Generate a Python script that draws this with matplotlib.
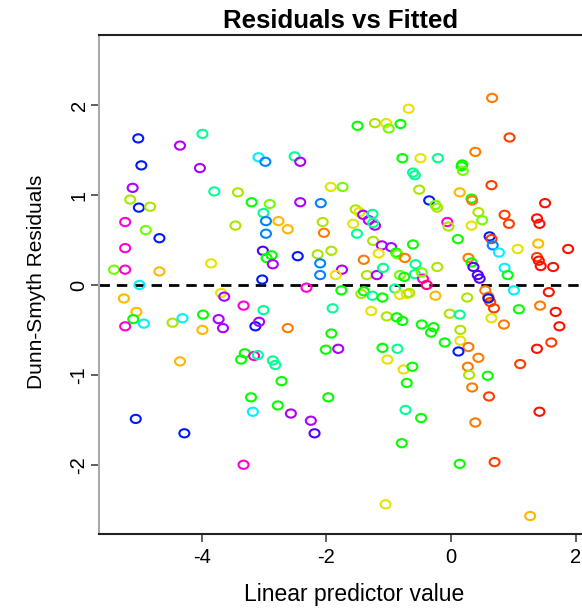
import numpy as np
import matplotlib
matplotlib.use("Agg")
import matplotlib.pyplot as plt
from matplotlib.path import Path
from matplotlib.transforms import Affine2D
from matplotlib.colors import hsv_to_rgb

# ---- data ----
fitted = [
    -5.02, -4.35, -3.99, -3.09, -2.98, -4.97, -4.03, -0.68, -1.50, -1.22,
    -1.04, -1.00, -0.81, -2.51, -2.42, -0.78, -0.49, 0.66, 0.94, 0.39,
    -0.21, 0.18, -5.11, -5.15, -5.01, -4.83, -3.80, -3.42, -3.20, -5.23,
    -4.90, -4.68, -3.46, -3.01, -3.02, -2.96, -5.23, -5.41, -5.23, -4.68,
    -3.85, -3.03, -5.00, -0.61, -0.58, -0.51, -1.93, -1.74, -2.91, -2.42,
    -2.09, -2.97, -2.77, -2.62, -2.97, -2.06, -2.04, -1.53, -1.47, -1.41,
    -1.32, -1.26, -1.22, -1.25, -1.57, -1.51, -1.25, -1.11, -0.96, -1.16,
    -0.88, -0.86, -0.74, -0.61, -0.57, -2.88, -2.86, -2.46, -2.14, -1.92,
    -2.10, -2.10, -1.75, -1.85, -1.40, -1.35, -1.19, -1.09, -0.82, -0.75,
    -0.58, -0.45, -0.39, -0.47, -2.32, -1.76, -1.44, -1.40, -1.26, -1.10,
    -0.90, -0.82, -0.71, -0.67, 0.17, 0.19, 0.65, 0.14, -0.35, -0.25,
    -0.22, 0.33, 0.34, 1.51, 0.44, 0.50, 0.86, 0.93, 1.38, 1.42,
    -0.06, -0.04, 0.33, 0.11, 0.62, 0.65, 0.67, 0.77, 1.07, 1.40,
    1.88, 1.38, 1.41, 1.44, 1.64, 0.28, 0.33, 0.36, 0.43, 0.46,
    0.86, 0.91, -0.22, 0.55, 1.01, 1.57, -3.69, -3.64, -5.25, -5.05,
    -5.10, -5.23, -4.93, -4.47, -4.31, -3.98, -3.99, -3.73, -3.66, -3.33,
    -3.01, -3.14, -3.08, -4.35, -3.31, -3.37, -3.16, -3.10, -3.21, -3.18,
    -5.06, -4.28, -3.33, -2.62, -1.90, -1.92, -2.01, -1.81, -2.86, -2.82,
    -2.72, -1.97, -2.78, -2.57, -2.25, -1.28, -1.03, -0.87, -0.78, -0.47,
    -1.10, -0.86, -1.02, -0.76, -0.62, -0.71, -0.73, -0.48, -2.19, -0.79,
    -1.05, -0.25, 0.26, 0.60, 0.63, 0.69, 0.60, 1.09, 1.43, 1.68,
    1.74, -0.02, 0.14, 0.65, 0.85, -0.28, -0.32, 0.15, -0.10, 0.15,
    0.28, 0.12, 1.61, 1.38, 0.44, 1.11, 0.27, 0.29, 0.59, 0.34,
    0.61, 1.42, 0.39, 0.14, 0.70, 1.27,
]
residuals = [
    1.63, 1.55, 1.68, 1.42, 1.37, 1.33, 1.30, 1.96, 1.77, 1.80,
    1.80, 1.74, 1.79, 1.43, 1.37, 1.41, 1.41, 2.08, 1.64, 1.48,
    1.41, 1.34, 1.08, 0.95, 0.86, 0.87, 1.04, 1.03, 0.92, 0.70,
    0.61, 0.52, 0.66, 0.80, 0.38, 0.30, 0.41, 0.17, 0.17, 0.15,
    0.24, 0.06, 0.00, 1.25, 1.22, 1.06, 1.09, 1.09, 0.90, 0.92,
    0.91, 0.71, 0.71, 0.62, 0.57, 0.70, 0.58, 0.84, 0.81, 0.78,
    0.72, 0.79, 0.66, 0.69, 0.68, 0.57, 0.49, 0.44, 0.42, 0.35,
    0.36, 0.34, 0.30, 0.45, 0.23, 0.33, 0.23, 0.32, 0.34, 0.38,
    0.24, 0.11, 0.17, 0.11, 0.28, 0.11, 0.11, 0.19, 0.11, 0.09,
    0.12, 0.07, 0.00, 0.14, -0.03, -0.06, -0.10, -0.07, -0.12, -0.14,
    -0.04, -0.11, -0.10, -0.09, 1.32, 1.27, 1.11, 1.03, 0.94, 0.89,
    0.86, 0.96, 0.94, 0.91, 0.81, 0.72, 0.78, 0.68, 0.74, 0.68,
    0.70, 0.65, 0.66, 0.51, 0.54, 0.51, 0.44, 0.36, 0.40, 0.46,
    0.40, 0.31, 0.27, 0.21, 0.20, 0.30, 0.25, 0.20, 0.11, 0.07,
    0.19, 0.11, 0.20, -0.06, -0.06, -0.08, -0.09, -0.13, -0.15, -0.30,
    -0.38, -0.46, -0.43, -0.42, -0.37, -0.33, -0.50, -0.38, -0.48, -0.23,
    -0.28, -0.46, -0.41, -0.85, -0.76, -0.83, -0.79, -0.78, -1.25, -1.41,
    -1.49, -1.65, -2.00, -0.48, -0.26, -0.54, -0.72, -0.71, -0.84, -0.89,
    -1.07, -1.25, -1.34, -1.43, -1.51, -0.29, -0.35, -0.36, -0.40, -0.44,
    -0.70, -0.71, -0.83, -0.94, -0.91, -1.09, -1.39, -1.48, -1.65, -1.76,
    -2.44, -0.12, -0.14, -0.13, -0.19, -0.26, -0.15, -0.27, -0.23, -0.30,
    -0.46, -0.32, -0.33, -0.37, -0.44, -0.47, -0.53, -0.50, -0.64, -0.62,
    -0.69, -0.74, -0.64, -0.71, -0.81, -0.88, -0.91, -1.00, -1.01, -1.14,
    -1.24, -1.41, -1.53, -1.99, -1.97, -2.57,
]
group = [
    "B", "P", "M", "C", "AZ", "B", "P", "Y", "G", "YG",
    "Y", "L", "G", "M", "P", "G", "Y", "O", "RO", "O",
    "M", "G", "P", "YG", "B", "YG", "M", "YG", "G", "MG",
    "L", "B", "YG", "M", "V", "G", "MG", "L", "MG", "A",
    "Y", "B", "C", "M", "M", "YG", "Y", "L", "L", "P",
    "AZ", "AZ", "A", "A", "AZ", "YG", "O", "YG", "Y", "P",
    "P", "M", "P", "M", "Y", "M", "YG", "P", "P", "Y",
    "G", "L", "O", "G", "M", "G", "P", "B", "YG", "YG",
    "AZ", "AZ", "P", "Y", "O", "YG", "P", "M", "L", "G",
    "M", "MG", "PK", "L", "MG", "G", "YG", "G", "M", "G",
    "M", "Y", "Y", "YG", "G", "L", "RO", "A", "B", "L",
    "YG", "G", "O", "R", "YG", "L", "RO", "RO", "R", "R",
    "MG", "YG", "Y", "G", "B", "RO", "AZ", "C", "Y", "A",
    "R", "RO", "R", "R", "R", "O", "G", "V", "V", "V",
    "C", "G", "YG", "O", "C", "R", "Y", "P", "A", "A",
    "G", "MG", "C", "YG", "C", "G", "A", "P", "P", "MG",
    "M", "B", "P", "A", "G", "G", "MG", "M", "G", "C",
    "B", "B", "MG", "O", "M", "G", "G", "P", "M", "M",
    "G", "G", "G", "P", "P", "Y", "YG", "G", "G", "G",
    "G", "M", "Y", "Y", "G", "G", "M", "G", "V", "G",
    "Y", "A", "YG", "O", "RO", "RO", "B", "G", "O", "R",
    "R", "YG", "M", "Y", "O", "G", "G", "YG", "G", "Y",
    "O", "B", "RO", "R", "O", "RO", "O", "YG", "G", "O",
    "RO", "R", "O", "G", "RO", "A",
]

HUE = dict(R=0.01, RO=0.04, O=0.08, A=0.12, Y=0.165, YG=0.21, L=0.26,
           G=0.33, M=0.43, C=0.51, AZ=0.58, B=0.65, V=0.72, P=0.78,
           MG=0.86, PK=0.92)

def col(g):
    h = HUE[g]
    v = 0.9 if 0.13 < h < 0.23 else 1.0
    return hsv_to_rgb([h, 1.0, v])

colors = [col(g) for g in group]

plt.rcParams["font.family"] = ["Liberation Sans", "DejaVu Sans"]
plt.rcParams["lines.scale_dashes"] = False

W, H = 582, 612
fig = plt.figure(figsize=(W / 100, H / 100), dpi=100)
left, right, top, bottom = 99, 583, 35, 534
ax = fig.add_axes([left / W, (H - bottom) / H, (right - left) / W, (bottom - top) / H])

ellipse = Path.unit_circle().transformed(Affine2D().scale(1.22, 1.0))
ax.scatter(fitted, residuals, marker=ellipse, s=52, facecolors="none",
           edgecolors=colors, linewidths=1.5, zorder=3)

ax.axhline(0, color="black", lw=2, ls=(0, (7.5, 5)), zorder=2)

x0 = -5.65
ax.set_xlim(x0, x0 + (right - left) / 62.3)
ax.set_ylim(-2.77, 2.78)

ax.set_xticks([-4, -2, 0, 2])
ax.set_xticklabels(["-4", "-2", "0", "2"])
ax.set_yticks([-2, -1, 0, 1, 2])
ax.set_yticklabels(["-2", "-1", "0", "1", "2"], rotation=90, va="center")

ax.tick_params(axis="both", direction="out", length=6, width=1.2,
               colors="#444444", labelcolor="black", labelsize=14.5, pad=4)
ax.tick_params(axis="y", pad=1.5)

for s in ["top", "bottom"]:
    ax.spines[s].set_color("#222222")
    ax.spines[s].set_linewidth(1.5)
ax.spines["left"].set_color("#aaaaaa")
ax.spines["left"].set_linewidth(1.5)
ax.spines["right"].set_visible(False)

ax.set_title("Residuals vs Fitted", fontsize=18.5, fontweight="bold", pad=5)
ax.set_xlabel("Linear predictor value", fontsize=16.5)
ax.xaxis.set_label_coords((354 - left) / (right - left), -(595 - bottom) / (bottom - top))
ax.xaxis.label.set_va("center")
ax.set_ylabel("Dunn-Smyth Residuals", fontsize=15)
ax.yaxis.set_label_coords(-(left - 37) / (right - left), (bottom - 282) / (bottom - top))
ax.yaxis.label.set_va("center")

fig.savefig("out.png", dpi=100)
